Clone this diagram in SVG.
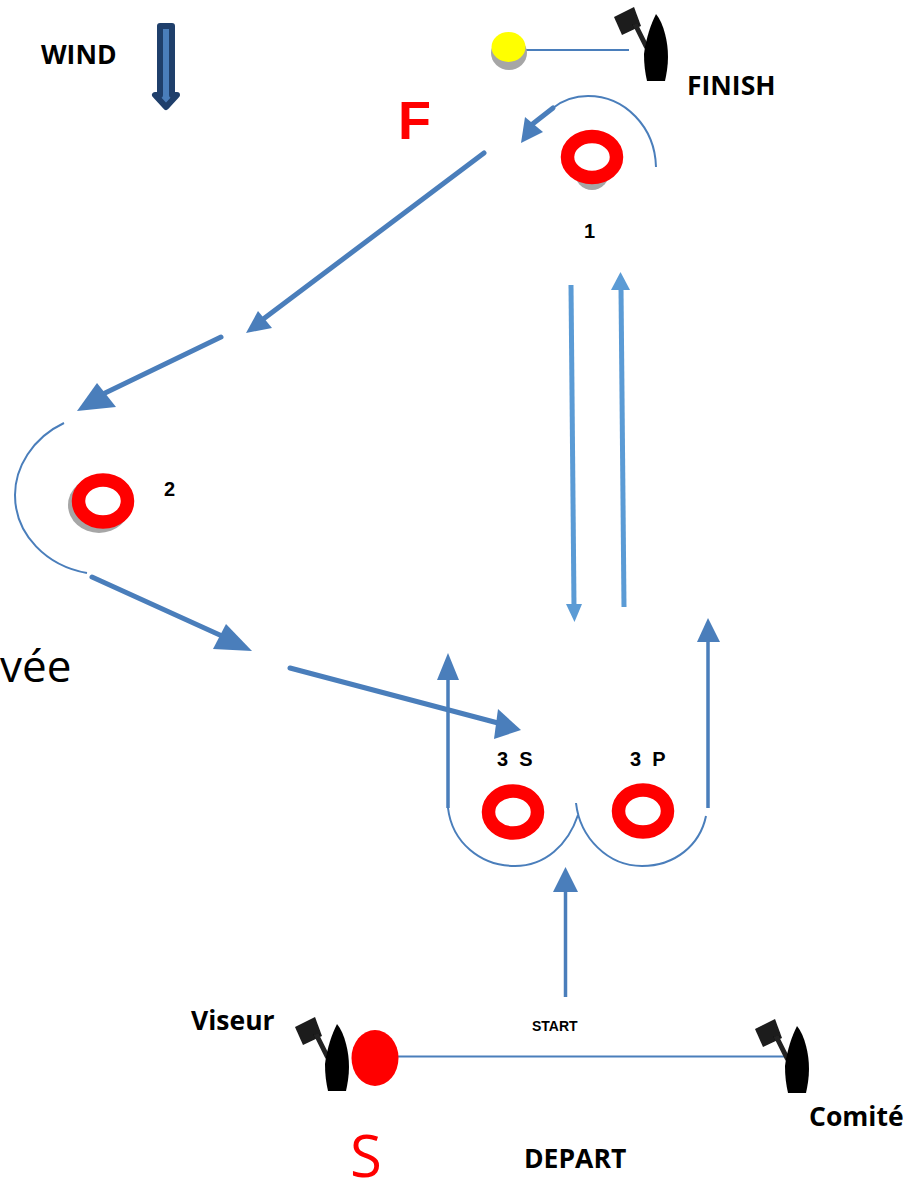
<svg xmlns="http://www.w3.org/2000/svg" width="907" height="1185" viewBox="0 0 907 1185">
<style>
.lbl{font-family:"Open Sans","Liberation Sans",sans-serif;font-weight:700;fill:#000;font-size:26.5px}
.num{font-family:"Liberation Sans",Arial,sans-serif;font-weight:700;fill:#000;font-size:20px}
.ring{fill:#fff;stroke:#f00;stroke-width:13.5}
.shadow{fill:#a6a6a6}
.thin{fill:none;stroke:#4a7ebb;stroke-width:2}
.thick{fill:none;stroke:#4a7ebb;stroke-width:5;stroke-linecap:round}
.med{fill:none;stroke:#4a7ebb;stroke-width:3.5}
.light{fill:none;stroke:#5b9bd5;stroke-width:5}
.head{fill:#4a7ebb}
.lhead{fill:#5b9bd5}
</style>
<defs>
<filter id="soft" x="-10%" y="-10%" width="120%" height="120%"><feGaussianBlur stdDeviation="0.7"/></filter>
<g id="boat" filter="url(#soft)">
<polygon points="614,17 634,7 641,26 622,35" fill="#1a1a1a"/>
<path d="M635 24 L646 46 L650 52" fill="none" stroke="#222" stroke-width="5"/>
<path d="M656 14 C664 24 668 42 668 57 C668 66 666.500 74 665 81 L647 81 C645 72 644 64 644 54 C646 38 651 24 656 14 Z" fill="#000"/>
</g>
</defs>
<rect width="907" height="1185" fill="#fff"/>
<g id="connectors">
<path class="thin" d="M526 50 L629 50"/>
<path class="thin" d="M398 1056.5 L794 1056.5"/>
<path class="thin" d="M656 167 C655 127 625 96 588 96 C575 96 563 100 553 108"/>
<path class="thick" d="M553 108 L530 126"/><polygon class="head" points="521,143 525,117 543,132"/>
<path class="thick" d="M484 153 L258 323"/><polygon class="head" points="246,333 258,311 272,328"/>
<path class="thick" d="M221 337 L103 394"/><polygon class="head" points="77,411 97,383 116,407"/>
<path class="thin" d="M64 423 C32 438 15 468 15 495 C15 535 47 566 87 573"/>
<path class="thick" d="M92 577 L222 636"/><polygon class="head" points="252,651 226,624 213,649"/>
<path class="thick" d="M290 668 L498 723"/><polygon class="head" points="521,730 498,709 494,739"/>
<path class="light" d="M571 285 L574 606"/><polygon class="lhead" points="574.500,622 566,604 582,604"/>
<path class="light" d="M624 607 L621 288"/><polygon class="lhead" points="620.500,272 611,290 630,290"/>
<path class="med" d="M448 808 L448 678"/><polygon class="head" points="448,653 437,680 459,680"/>
<path class="thin" d="M448 808 C452 842 480 866 515 866 C545 866 568 845 578 815"/>
<path class="thin" d="M576 803 C580 838 608 866 642 866 C675 866 700 845 706 816"/>
<path class="med" d="M708 808 L708 640"/><polygon class="head" points="708,618 697,642 720,642"/>
<path class="med" d="M565.500 997 L565.500 890"/><polygon class="head" points="565.500,867 553,892 578,892"/>
</g>
<g id="wind-arrow"><path d="M160 26 L172 26 L172 95 L177 95 L166 107 L155 95 L160 95 Z" fill="#4a7ebb" stroke="#1f3f6b" stroke-width="6" stroke-linejoin="round"/></g>
<g id="wind-label"><text class="lbl" x="41" y="64">WIND</text></g>
<g id="finish-mark"><ellipse class="shadow" cx="509" cy="53" rx="18" ry="17"/><ellipse cx="508.500" cy="47" rx="17" ry="15" fill="#ff0"/></g>
<g id="finish-boat"><use href="#boat"/></g>
<g id="finish-label"><text class="lbl" x="687" y="95">FINISH</text></g>
<g id="f-label"><text x="398" y="139" font-family="'Liberation Sans',Arial,sans-serif" font-weight="700" font-size="54" fill="#f00">F</text></g>
<g id="mark-1"><ellipse class="shadow" cx="592" cy="170" rx="18" ry="20"/><ellipse class="ring" cx="592" cy="157" rx="24.500" ry="20.500"/><text class="num" x="584" y="238">1</text></g>
<g id="mark-2"><ellipse class="shadow" cx="99" cy="505" rx="31" ry="28"/><ellipse class="ring" cx="103" cy="501" rx="24.500" ry="21"/><text class="num" x="164" y="496">2</text></g>
<g id="mark-3s"><ellipse class="ring" cx="513" cy="812" rx="24.500" ry="21"/><text class="num" x="497" y="766" xml:space="preserve">3  S</text></g>
<g id="mark-3p"><ellipse class="ring" cx="643" cy="811" rx="24.500" ry="21"/><text class="num" x="630" y="766" xml:space="preserve">3  P</text></g>
<g id="arrivee-label"><text x="0" y="682" font-family="'Open Sans','Liberation Sans',sans-serif" font-size="44" fill="#000">vée</text></g>
<g id="start-boat"><use href="#boat" transform="translate(-319 1010)"/></g>
<g id="committee-boat"><use href="#boat" transform="translate(141 1012)"/></g>
<g id="start-mark"><ellipse cx="375" cy="1058" rx="23.500" ry="28" fill="#f00"/></g>
<g id="viseur-label"><text class="lbl" x="191" y="1030">Viseur</text></g>
<g id="start-label"><text x="532" y="1031" font-family="'Liberation Sans',Arial,sans-serif" font-weight="700" font-size="14" fill="#000">START</text></g>
<g id="comite-label"><text class="lbl" x="809" y="1126">Comité</text></g>
<g id="s-label"><text x="350" y="1177" font-family="'Open Sans','Liberation Sans',sans-serif" font-size="58" fill="#f00">S</text></g>
<g id="depart-label"><text class="lbl" x="524" y="1168">DEPART</text></g>
</svg>
